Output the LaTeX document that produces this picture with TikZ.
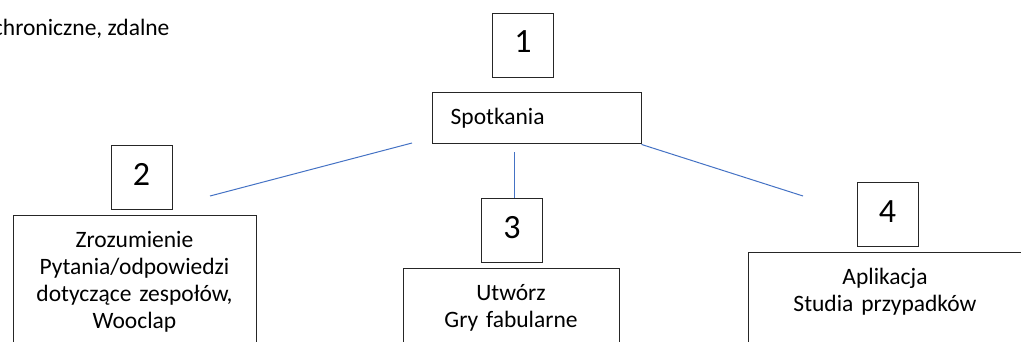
\documentclass[tikz,border=0pt]{standalone}
\usepackage{fontspec}
\setmainfont{Carlito}
\usepackage{tikz}
\usepackage{xcolor}
\definecolor{wordblue}{HTML}{4472C4}

\begin{document}
\begin{tikzpicture}[x=1pt, y=-1pt,
        numbox/.style={draw=black!85, line width=1pt, minimum width=61pt, minimum height=64pt,
            inner sep=0pt, text depth=6pt, font=\fontsize{34}{40}\selectfont},
        textbox/.style={draw=black!85, line width=1pt, anchor=north, align=center,
            inner xsep=6pt, inner ysep=12.8pt, text depth=100pt, font=\fontsize{23.5}{27}\selectfont},
        link/.style={wordblue, line width=1pt}]

            %% frame (the cut of the page)
            \useasboundingbox (0,0) rectangle (1021,341);
            \clip (0,0) rectangle (1021,341);

            \node[anchor=base west, inner sep=0pt, font=\fontsize{23.5}{27}\selectfont] (mode) at (-7.2,35) {chroniczne, zdalne};

            % 1
            \node[numbox] (n1) at (523,45) {1};
            \node[draw=black!85, line width=1pt, minimum width=209pt, minimum height=51.3pt,
                text width=171.6pt, inner xsep=18.7pt, inner ysep=0pt, align=left,
                font=\fontsize{23.5}{27}\selectfont] (spot) at (536.5,118.3) {Spotkania};

            % 2
            \node[numbox] (n2) at (141.5,177) {2};
            \node[textbox, text width=231pt] (zroz) at (134.5,215)
                {\strut Zrozumienie\\Pytania/odpowiedzi\\dotyczące zespołów,\\Wooclap};

            % 3
            \node[numbox] (n3) at (512,230) {3};
            \node[textbox, text width=204pt] (utworz) at (511,268)
                {\strut Utwórz\\Gry fabularne};

            % 4
            \node[numbox] (n4) at (887.5,214.5) {4};
            \node[textbox, text width=262pt] (aplik) at (885,252)
                {\strut Aplikacja\\Studia przypadków};

            %% links
            \coordinate (a1) at (412,143);
            \coordinate (a2) at (210,196);
            \coordinate (b1) at (514,152);
            \coordinate (c2) at (803,196);
            \draw[link] (a1) -- (a2);
            \draw[link] (b1) -- (b1 |- n3.north);
            \draw[link] (spot.south east) -- (c2);

        \end{tikzpicture}
\end{document}
